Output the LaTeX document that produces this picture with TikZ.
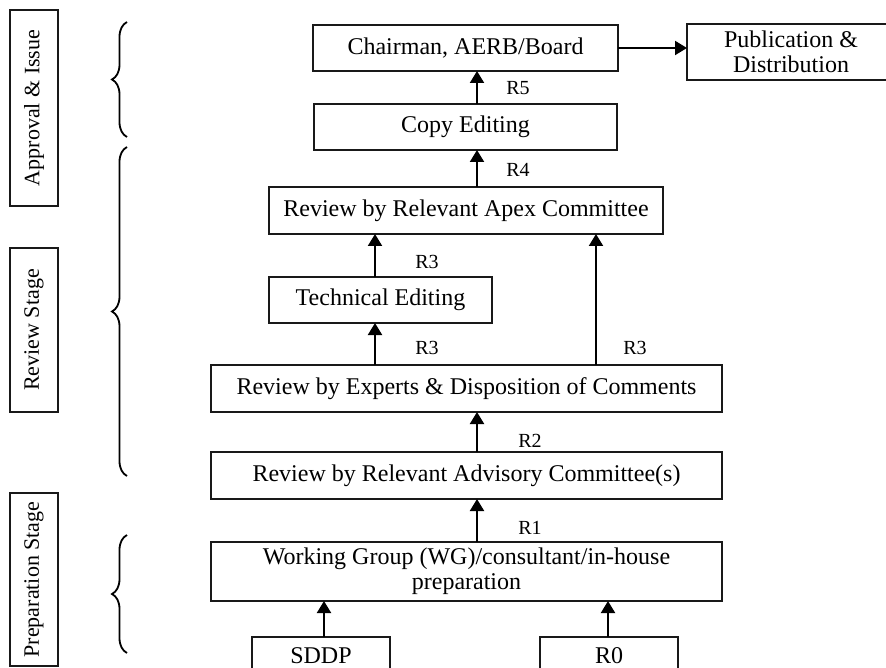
\documentclass[tikz,border=0pt]{standalone}
\usepackage{fontspec}
\setmainfont{Liberation Serif}
\usetikzlibrary{arrows.meta,decorations.pathreplacing}
\begin{document}
\begin{tikzpicture}[x=1pt,y=-1pt,
  box/.style={draw=black!90,line width=2pt,inner sep=0pt,outer sep=0pt,align=center,font=\fontsize{24}{25}\selectfont},
  stagebox/.style={draw=black!90,line width=2pt,inner sep=0pt,outer sep=0pt,rotate=90,font=\fontsize{22}{24}\selectfont},
  flow/.style={line width=2pt,-{Triangle[length=12pt,width=14pt]}},
  rlab/.style={font=\fontsize{20}{22}\selectfont,inner sep=0pt},
  brc/.style={line width=1.8pt,decorate,decoration={brace,amplitude=15pt}}]
\useasboundingbox (0,0) rectangle (886,668);
\clip (0,0) rectangle (886,668);
\fill[white] (0,0) rectangle (886,668);

% stage labels
\node[stagebox,minimum width=196pt,minimum height=48pt] (approval) at (34,108) {Approval \& Issue};
\node[stagebox,minimum width=164pt,minimum height=48pt] (reviewst) at (34,330) {Review Stage};
\node[stagebox,minimum width=173pt,minimum height=48pt] (prepst) at (34,579.5) {Preparation Stage};

% braces
\draw[brc] (127,137) -- (127,22);
\draw[brc] (127,476) -- (127,147);
\draw[brc] (127,653) -- (127,535);

% main boxes
\node[box,minimum width=305pt,minimum height=46pt] (chair) at (465.5,48) {Chairman, AERB/Board};
\node[box,minimum width=208pt,minimum height=56pt] (pub) at (791,52) {Publication \&\\Distribution};
\node[box,minimum width=303pt,minimum height=46pt] (copy) at (465.5,127) {Copy Editing};
\node[box,minimum width=394pt,minimum height=47pt] (apex) at (466,210.5) {Review by Relevant Apex Committee};
\node[box,minimum width=223pt,minimum height=46pt] (tech) at (380.5,300) {Technical Editing};
\node[box,minimum width=511pt,minimum height=47pt] (experts) at (466.5,388.5) {Review by Experts \& Disposition of Comments};
\node[box,minimum width=511pt,minimum height=47pt] (advisory) at (466.5,475.5) {Review by Relevant Advisory Committee(s)};
\node[box,minimum width=511pt,minimum height=59pt] (wg) at (466.5,571.5) {Working Group (WG)/consultant/in-house\\preparation};
\node[box,minimum width=138pt,minimum height=38pt] (sddp) at (321,656) {SDDP};
\node[box,minimum width=138pt,minimum height=38pt] (r0) at (609,656) {R0};

% columns for connectors
\coordinate (cmain) at (477,0);
\coordinate (cleft) at (375,0);
\coordinate (cright) at (596,0);
\coordinate (csddp) at (324,0);
\coordinate (cr0) at (608,0);

% connectors
\draw[flow] (sddp.north -| csddp) -- (wg.south -| csddp);
\draw[flow] (r0.north -| cr0) -- (wg.south -| cr0);
\draw[flow] (wg.north -| cmain) -- (advisory.south -| cmain);
\draw[flow] (advisory.north -| cmain) -- (experts.south -| cmain);
\draw[flow] (experts.north -| cleft) -- (tech.south -| cleft);
\draw[flow] (tech.north -| cleft) -- (apex.south -| cleft);
\draw[flow] (experts.north -| cright) -- (apex.south -| cright);
\draw[flow] (apex.north -| cmain) -- (copy.south -| cmain);
\draw[flow] (copy.north -| cmain) -- (chair.south -| cmain);
\draw[flow] (chair.east) -- (pub.west |- chair.east);

% labels
\node[rlab] (l1) at (530,528) {R1};
\node[rlab] (l2) at (530,441) {R2};
\node[rlab] (l3a) at (427,348) {R3};
\node[rlab] (l3b) at (635,348) {R3};
\node[rlab] (l3c) at (427,262) {R3};
\node[rlab] (l4) at (518,170) {R4};
\node[rlab] (l5) at (518,88.5) {R5};
\end{tikzpicture}
\end{document}
